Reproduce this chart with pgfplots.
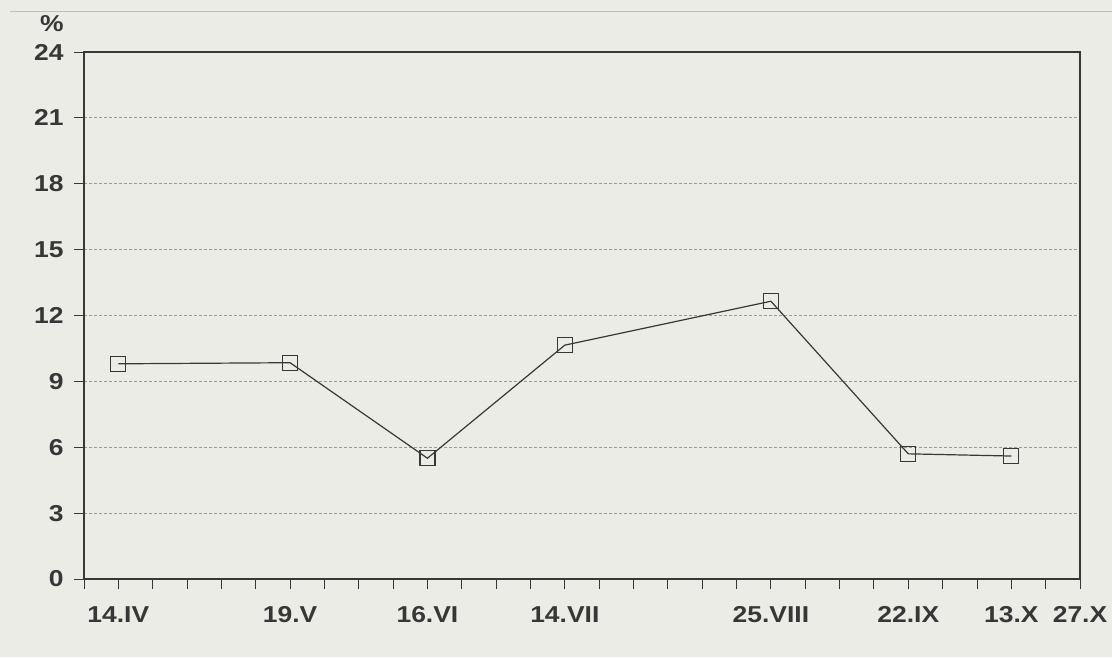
\documentclass[border=0pt]{standalone}
\usepackage{fontspec}
\setmainfont{Liberation Sans}[FakeStretch=1.15]
\usepackage{pgfplots}
\pgfplotsset{compat=1.18}
\definecolor{paper}{RGB}{236,236,231}
\definecolor{ink}{RGB}{55,55,55}
\begin{document}
\begin{tikzpicture}[x=1pt,y=1pt]
\fill[paper] (0,0) rectangle (1112,657);
\useasboundingbox (0,0) rectangle (1112,657);
\draw[gray!50, line width=1pt] (10,645) -- (1112,645);
\begin{axis}[
  at={(84pt,78pt)}, anchor=south west,
  width=996pt, height=527pt, scale only axis,
  xmin=0, xmax=203, ymin=0, ymax=24,
  ytick={0,3,...,24},
  xtick={7,42,70,98,140,168,189,203},
  xticklabels={14.IV,19.V,16.VI,14.VII,25.VIII,22.IX,13.X,27.X},
  minor xtick={0,7,...,203},
  tick align=outside, xtick pos=bottom, ytick pos=left,
  major tick length=10pt, minor tick length=10pt,
  tick style={ink, line width=0.9pt},
  axis line style={ink, line width=1.3pt},
  ymajorgrids, grid style={densely dashed, gray!80, line width=0.8pt},
  /pgf/number format/assume math mode=true,
  ticklabel style={font=\fontsize{23}{23}\selectfont\bfseries, text=ink},
  xticklabel style={yshift=-14pt},
  yticklabel style={xshift=-7pt},
  clip=false,
]
\addplot[ink, line width=1.2pt, mark=square, mark size=7.5pt,
  mark options={solid, line width=1.1pt}]
  coordinates {(7,9.8)(42,9.85)(70,5.5)(98,10.65)(140,12.65)(168,5.7)(189,5.6)};
\node[font=\fontsize{23}{23}\selectfont\bfseries, text=ink] at (rel axis cs:0,1) [xshift=-32pt, yshift=28pt] {\%};
\end{axis}
\end{tikzpicture}
\end{document}
